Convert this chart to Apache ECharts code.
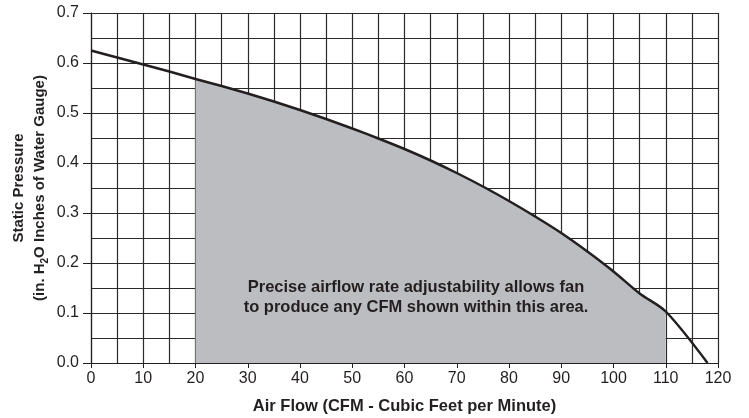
<!DOCTYPE html>
<html>
<head>
<meta charset="utf-8">
<script src="https://cdn.jsdelivr.net/npm/echarts@6/dist/echarts.min.js"></script>
<style>
html, body { margin: 0; padding: 0; background: #fff; }
#chart { width: 749px; height: 418px; }
</style>
</head>
<body>
<div id="chart"></div>
<script>
// fan curve
var airFlow = [0, 5, 10, 15, 20, 25, 30, 35, 40, 45, 50, 55, 60, 65, 70, 75, 80, 85, 90, 95, 100, 105, 110, 118];
var pressure = [0.625, 0.611, 0.597, 0.583, 0.568, 0.554, 0.539, 0.523, 0.506, 0.488, 0.469, 0.449, 0.428, 0.405, 0.380, 0.353, 0.324, 0.293, 0.260, 0.223, 0.183, 0.139, 0.103, 0];
// shaded range of adjustable flow
var areaFrom = 20;
var areaTo = 110;
var xTicks = [0, 10, 20, 30, 40, 50, 60, 70, 80, 90, 100, 110, 120];
var yTicks = [0.0, 0.1, 0.2, 0.3, 0.4, 0.5, 0.6, 0.7];
var noteLines = ["Precise airflow rate adjustability allows fan", "to produce any CFM shown within this area."];

var curve = airFlow.map(function (x, i) { return [x, pressure[i]]; });
var shaded = curve.filter(function (p) { return p[0] >= areaFrom && p[0] <= areaTo; });

var font = "Liberation Sans, Arial, Helvetica, sans-serif";
var ink = "#231f20";
var gridLine = { show: true, lineStyle: { color: "#2b2b2b", width: 1.2 } };

var chart = echarts.init(document.getElementById("chart"));
chart.setOption({
    animation: false,
    textStyle: { fontFamily: font },
    grid: { left: 91, right: 31, top: 13, bottom: 55, containLabel: false, outerBoundsMode: "none" },
    xAxis: {
        type: "value",
        min: xTicks[0],
        max: xTicks[xTicks.length - 1],
        interval: 10,
        name: "Air Flow (CFM - Cubic Feet per Minute)",
        nameLocation: "middle",
        nameGap: 35,
        nameTextStyle: { fontFamily: font, fontSize: 16.5, fontWeight: "bold", color: ink },
        axisLine: { show: true, lineStyle: { color: ink, width: 1.2 } },
        axisTick: { show: true, length: 5, lineStyle: { color: ink } },
        axisLabel: { fontFamily: font, fontSize: 16, color: ink, margin: 8 },
        splitLine: gridLine,
        minorTick: { show: false, splitNumber: 2 },
        minorSplitLine: gridLine
    },
    yAxis: {
        type: "value",
        min: yTicks[0],
        max: yTicks[yTicks.length - 1],
        interval: 0.1,
        name: "{b|Static Pressure}\n{b|(in. H}{s|2}{b|O Inches of Water Gauge)}",
        nameLocation: "middle",
        nameGap: 41,
        nameMoveOverlap: false,
        nameTextStyle: {
            fontFamily: font, fontSize: 15, fontWeight: "bold", color: ink, lineHeight: 21,
            rich: {
                b: { fontFamily: font, fontSize: 15, fontWeight: "bold", color: ink, lineHeight: 21 },
                s: { fontFamily: font, fontSize: 10, fontWeight: "bold", color: ink, lineHeight: 21, verticalAlign: "bottom", padding: [6, 0, 0, 0] }
            }
        },
        axisLine: { show: true, lineStyle: { color: ink, width: 1.2 } },
        axisTick: { show: true, length: 8, lineStyle: { color: ink } },
        axisLabel: {
            fontFamily: font, fontSize: 16, color: ink, margin: 12,
            formatter: function (v) { return v.toFixed(1); }
        },
        splitLine: gridLine,
        minorTick: { show: false, splitNumber: 2 },
        minorSplitLine: gridLine
    },
    series: [
        {
            type: "line",
            data: shaded,
            showSymbol: false,
            smooth: 0.3,
            lineStyle: { width: 0 },
            areaStyle: { color: "#bcbdc1", opacity: 1 },
            z: 2
        },
        {
            type: "line",
            data: curve,
            showSymbol: false,
            smooth: 0.3,
            lineStyle: { color: ink, width: 2.5 },
            z: 3
        }
    ],
    graphic: [
        {
            type: "text",
            x: 416,
            y: 277,
            z: 10,
            style: {
                text: noteLines.join("\n"),
                fontFamily: font,
                fontSize: 16.5,
                fontWeight: "bold",
                fill: ink,
                align: "center",
                textAlign: "center",
                lineHeight: 20
            }
        }
    ]
});
</script>
</body>
</html>
